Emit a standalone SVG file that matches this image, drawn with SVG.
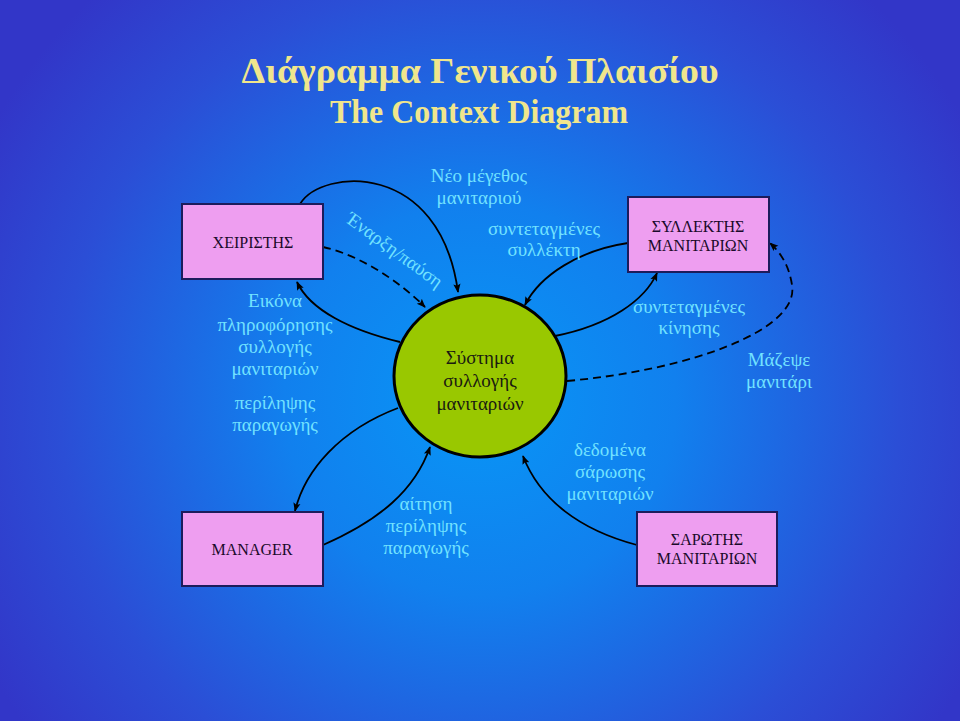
<svg xmlns="http://www.w3.org/2000/svg" width="960" height="721" viewBox="0 0 960 721">
<defs>
<radialGradient id="bg" cx="480" cy="400" r="560" gradientUnits="userSpaceOnUse">
<stop offset="0" stop-color="#0896f6"/>
<stop offset="0.35" stop-color="#1180ee"/>
<stop offset="0.75" stop-color="#2b4ed6"/>
<stop offset="1" stop-color="#3236c8"/>
</radialGradient>
<marker id="ah" viewBox="0 0 10 10" refX="9" refY="5" markerWidth="9" markerHeight="9" markerUnits="userSpaceOnUse" orient="auto">
<path d="M0,1 L10,5 L0,9 L2,5 Z" fill="#000"/>
</marker>
<style>
.title{font-family:"Liberation Serif","Times New Roman",serif;font-weight:bold;fill:#f0e68c;text-anchor:middle}
.box{fill:#ee9ef0;stroke:#1c1c5c;stroke-width:2}
.bt{font-family:"Liberation Serif","Times New Roman",serif;font-size:16px;fill:#1a0a2a;text-anchor:middle}
.lbl{font-family:"Liberation Serif","Times New Roman",serif;font-size:19px;fill:#72e2ff;text-anchor:middle}
.ct{font-family:"Liberation Serif","Times New Roman",serif;font-size:19px;fill:#1a1a10;text-anchor:middle}
.c{fill:none;stroke:#000;stroke-width:1.8;marker-end:url(#ah)}
.d{stroke-dasharray:8 5}
</style>
</defs>
<rect width="960" height="721" fill="url(#bg)"/>
<text class="title" x="480" y="83" font-size="35" textLength="477" lengthAdjust="spacingAndGlyphs">Διάγραμμα Γενικού Πλαισίου</text>
<text class="title" x="479" y="123" font-size="33" textLength="298" lengthAdjust="spacingAndGlyphs">The Context Diagram</text>

<g id="connectors">
<path class="c" d="M300,204 C322,168 440,160 458,292"/>
<path class="c d" d="M323,247 C360,255 400,282 425,307"/>
<path class="c" d="M400,342 C350,330 310,310 297,282"/>
<path class="c" d="M398,408 C340,430 305,470 295,511"/>
<path class="c" d="M323,545 C380,520 415,490 430,447"/>
<path class="c" d="M628,243 C580,250 540,275 525,305"/>
<path class="c" d="M555,336 C610,325 645,300 657,273"/>
<path class="c d" d="M567,381 C690,370 800,330 792,285 C789,265 780,252 770,243"/>
<path class="c" d="M637,545 C580,530 540,500 523,456"/>
</g>

<g id="labels">
<text class="lbl" x="479" y="182">Νέο μέγεθος</text>
<text class="lbl" x="479" y="204">μανιταριού</text>
<text class="lbl" transform="translate(391,255) rotate(36)" x="0" y="0">Έναρξη/παύση</text>
<text class="lbl" x="544" y="235">συντεταγμένες</text>
<text class="lbl" x="544" y="256">συλλέκτη</text>
<text class="lbl" x="275" y="307">Εικόνα</text>
<text class="lbl" x="275" y="331">πληροφόρησης</text>
<text class="lbl" x="275" y="353">συλλογής</text>
<text class="lbl" x="275" y="375">μανιταριών</text>
<text class="lbl" x="275" y="409">περίληψης</text>
<text class="lbl" x="275" y="431">παραγωγής</text>
<text class="lbl" x="689" y="313">συντεταγμένες</text>
<text class="lbl" x="689" y="334">κίνησης</text>
<text class="lbl" x="779" y="366">Μάζεψε</text>
<text class="lbl" x="779" y="388">μανιτάρι</text>
<text class="lbl" x="426" y="510">αίτηση</text>
<text class="lbl" x="426" y="532">περίληψης</text>
<text class="lbl" x="426" y="554">παραγωγής</text>
<text class="lbl" x="610" y="456">δεδομένα</text>
<text class="lbl" x="610" y="478">σάρωσης</text>
<text class="lbl" x="610" y="500">μανιταριών</text>
</g>

<g id="node-system">
<ellipse cx="480" cy="376" rx="86" ry="81" fill="#99c800" stroke="#000" stroke-width="3"/>
<text class="ct" x="480" y="364">Σύστημα</text>
<text class="ct" x="480" y="387">συλλογής</text>
<text class="ct" x="480" y="410">μανιταριών</text>
</g>

<g id="node-operator">
<rect class="box" x="182" y="204" width="141" height="75"/>
<text class="bt" x="253" y="248">ΧΕΙΡΙΣΤΗΣ</text>
</g>

<g id="node-collector">
<rect class="box" x="628" y="197" width="141" height="75"/>
<text class="bt" x="698" y="232">ΣΥΛΛΕΚΤΗΣ</text>
<text class="bt" x="698" y="251">ΜΑΝΙΤΑΡΙΩΝ</text>
</g>

<g id="node-manager">
<rect class="box" x="182" y="512" width="141" height="74"/>
<text class="bt" x="252" y="555">MANAGER</text>
</g>

<g id="node-scanner">
<rect class="box" x="637" y="512" width="140" height="74"/>
<text class="bt" x="707" y="545">ΣΑΡΩΤΗΣ</text>
<text class="bt" x="707" y="564">ΜΑΝΙΤΑΡΙΩΝ</text>
</g>
</svg>
